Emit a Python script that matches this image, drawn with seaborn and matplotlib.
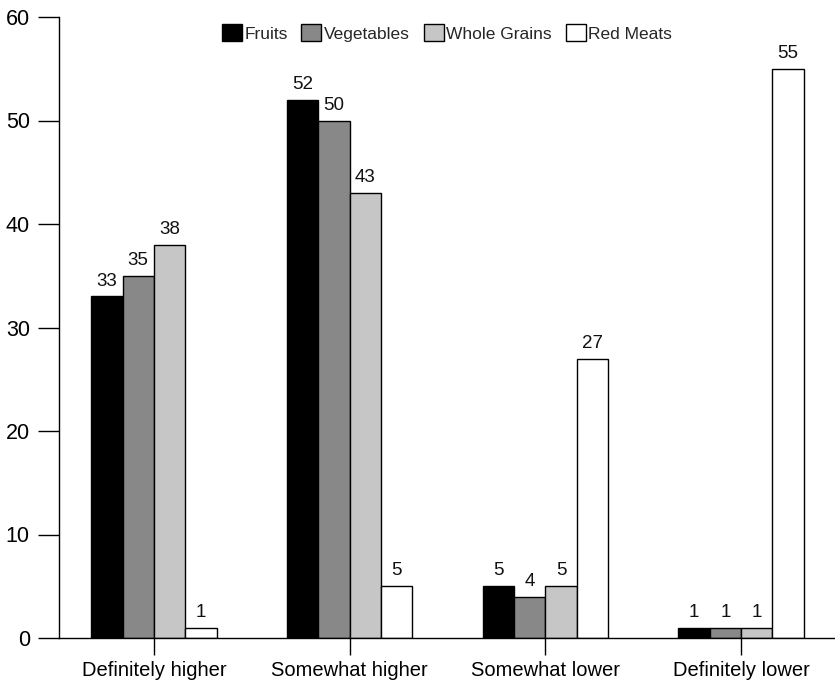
import matplotlib
matplotlib.use("Agg")
import matplotlib.pyplot as plt
import seaborn as sns
import pandas as pd

categories = ["Definitely higher", "Somewhat higher", "Somewhat lower", "Definitely lower"]
series = ["Fruits", "Vegetables", "Whole Grains", "Red Meats"]
fruits = [33, 52, 5, 1]
vegetables = [35, 50, 4, 1]
whole_grains = [38, 43, 5, 1]
red_meats = [1, 5, 27, 55]
colors = ["#000000", "#888888", "#c6c6c6", "#ffffff"]

values = [fruits, vegetables, whole_grains, red_meats]
rows = []
for s, vals in zip(series, values):
    for c, v in zip(categories, vals):
        rows.append({"category": c, "series": s, "value": v})
df = pd.DataFrame(rows)

sns.set_theme(style="ticks")
plt.rcParams["font.family"] = ["Liberation Sans", "DejaVu Sans"]

fig = plt.figure(figsize=(8.35, 6.81), dpi=100)
ax = fig.add_axes([59 / 835, 1 - 638 / 681, 1 - 59 / 835, (638 - 17) / 681])

sns.barplot(data=df, x="category", y="value", hue="series", order=categories,
            hue_order=series, palette=colors, width=0.64, edgecolor="black",
            linewidth=1.0, saturation=1, ax=ax, legend=True)

for cont in ax.containers:
    ax.bar_label(cont, fmt="%d", padding=5, fontsize=13.5, color="#111111")

ax.set_ylim(0, 60)
ax.set_yticks(range(0, 61, 10))
ax.set_xlim(-0.485, 3.48)
ax.set_xlabel("")
ax.set_ylabel("")
sns.despine(ax=ax)
for sp in ("left", "bottom"):
    ax.spines[sp].set_linewidth(1.0)
    ax.spines[sp].set_color("black")
ax.tick_params(axis="y", length=15, width=1, labelsize=15.5, pad=6, colors="black")
ax.tick_params(axis="x", length=12, width=1, labelsize=14.5, pad=4.5, colors="black")

leg = ax.legend(loc="upper center", bbox_to_anchor=(0.5, 1.005), ncol=4, frameon=False,
                fontsize=12.5, handlelength=1.15, handleheight=1.1,
                handletextpad=0.15, columnspacing=0.8, borderaxespad=0.2)
for h in leg.legend_handles:
    h.set_edgecolor("black")
    h.set_linewidth(1.0)

fig.savefig("out.png", dpi=100)
